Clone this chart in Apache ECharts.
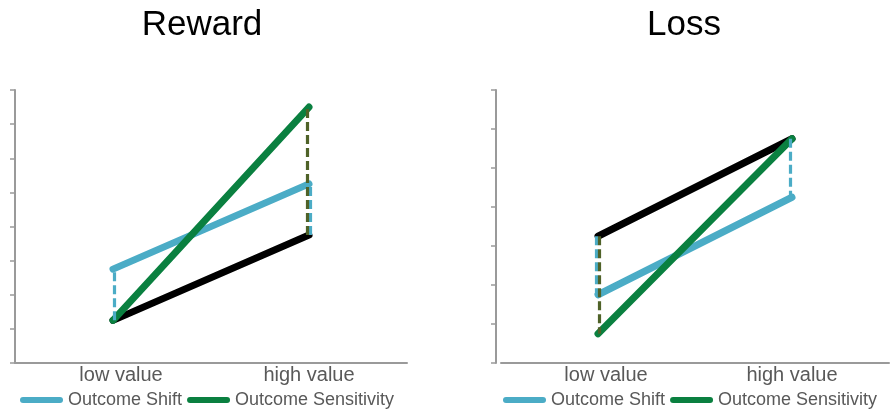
<!DOCTYPE html>
<html>
<head>
<meta charset="utf-8">
<script src="https://cdn.jsdelivr.net/npm/echarts@6/dist/echarts.min.js"></script>
<style>html,body{margin:0;padding:0;background:#fff;}#c{width:894px;height:416px;}</style>
</head>
<body>
<div id="c"></div>
<script>
const categories = ['low value', 'high value'];
const titles = ['Reward', 'Loss'];
const legendNames = ['Outcome Shift', 'Outcome Sensitivity'];
const rewardBaseline = [1.25, 3.75];
const rewardShift = [2.75, 5.25];
const rewardSensitivity = [1.25, 7.5];
const lossBaseline = [3.25, 5.75];
const lossShift = [1.75, 4.25];
const lossSensitivity = [0.75, 5.75];
const rewardYMax = 8;
const lossYMax = 7;

const FONT = 'Liberation Sans, Arial, sans-serif';
const BLUE = '#4bacc6', GREEN = '#0a8040', OLIVE = '#4f6228', AXIS = '#9a9a9a', TXT = '#595959';
const capsule = 'path://M3,0 L40,0 A3,3 0 0 1 40,6 L3,6 A3,3 0 0 1 3,0 Z';

function gaps(base, other) {
  const out = [];
  base.forEach((b, i) => { if (other[i] !== b) out.push([i, b, other[i]]); });
  return out;
}

const charts = [
  { base: rewardBaseline, shift: rewardShift, sens: rewardSensitivity, ymax: rewardYMax,
    grid: { left: 15, top: 90, width: 392, height: 273 }, yOffset: 0, titleX: 197, legendX: 20, blueDx: 1.5, oliveDx: -1.5 },
  { base: lossBaseline, shift: lossShift, sens: lossSensitivity, ymax: lossYMax,
    grid: { left: 501, top: 90, width: 388, height: 273 }, yOffset: 5, titleX: 679, legendX: 503, blueDx: -1.5, oliveDx: 1.5 }
];

function dashSeries(idx, data, color, dx, name) {
  return {
    type: 'custom', name: name, xAxisIndex: idx, yAxisIndex: idx, data: data,
    encode: { x: 0, y: [1, 2] }, silent: true, z: 5,
    renderItem: function (params, api) {
      const p1 = api.coord([api.value(0), api.value(1)]);
      const p2 = api.coord([api.value(0), api.value(2)]);
      return { type: 'line', shape: { x1: p1[0] + dx, y1: p1[1], x2: p2[0] + dx, y2: p2[1] },
        style: { stroke: color, lineWidth: 3.2, lineDash: [9, 4] } };
    }
  };
}

const option = { animation: false, title: [], legend: [], grid: [], xAxis: [], yAxis: [], series: [] };

charts.forEach((c, idx) => {
  option.title.push({ text: titles[idx], left: c.titleX, top: 3, textAlign: 'center',
    textStyle: { fontFamily: FONT, fontSize: 35, fontWeight: 'normal', color: '#000' } });
  option.legend.push({ data: legendNames.map(n => ({ name: n, icon: capsule })), left: c.legendX, top: 391,
    itemWidth: 43, itemHeight: 6, itemGap: 5, padding: 0,
    textStyle: { fontFamily: FONT, fontSize: 18, color: TXT } });
  option.grid.push(c.grid);
  option.xAxis.push({ type: 'category', gridIndex: idx, data: categories, boundaryGap: true,
    axisLine: { lineStyle: { color: AXIS, width: 2 } }, axisTick: { show: false },
    axisLabel: { fontFamily: FONT, fontSize: 20, color: TXT, margin: 2,
      formatter: (v, i) => i === 0 ? '{a|' + v + '}' : v,
      rich: { a: { fontFamily: FONT, fontSize: 20, color: TXT, padding: [0, 0, 0, 16] } } } });
  option.yAxis.push({ type: 'value', gridIndex: idx, min: 0, max: c.ymax, interval: 1, offset: c.yOffset,
    axisLine: { show: true, lineStyle: { color: AXIS, width: 2 } },
    axisTick: { show: true, length: 5, lineStyle: { color: AXIS, width: 1.5 } },
    axisLabel: { show: false }, splitLine: { show: false } });
  const ls = (color) => ({ color: color, width: 7, cap: 'round', join: 'round' });
  option.series.push(
    { type: 'line', name: 'Baseline', xAxisIndex: idx, yAxisIndex: idx, data: c.base, symbol: 'none', lineStyle: ls('#000'), itemStyle: { color: '#000' }, z: 2 },
    { type: 'line', name: legendNames[0], xAxisIndex: idx, yAxisIndex: idx, data: c.shift, symbol: 'none', lineStyle: ls(BLUE), itemStyle: { color: BLUE }, z: 3 },
    { type: 'line', name: legendNames[1], xAxisIndex: idx, yAxisIndex: idx, data: c.sens, symbol: 'none', lineStyle: ls(GREEN), itemStyle: { color: GREEN }, z: 4 },
    dashSeries(idx, gaps(c.base, c.shift), BLUE, c.blueDx, 'shift gap'),
    dashSeries(idx, gaps(c.base, c.sens), OLIVE, c.oliveDx, 'sensitivity gap')
  );
});

const chart = echarts.init(document.getElementById('c'), null, { renderer: 'canvas' });
chart.setOption(option);
</script>
</body>
</html>
